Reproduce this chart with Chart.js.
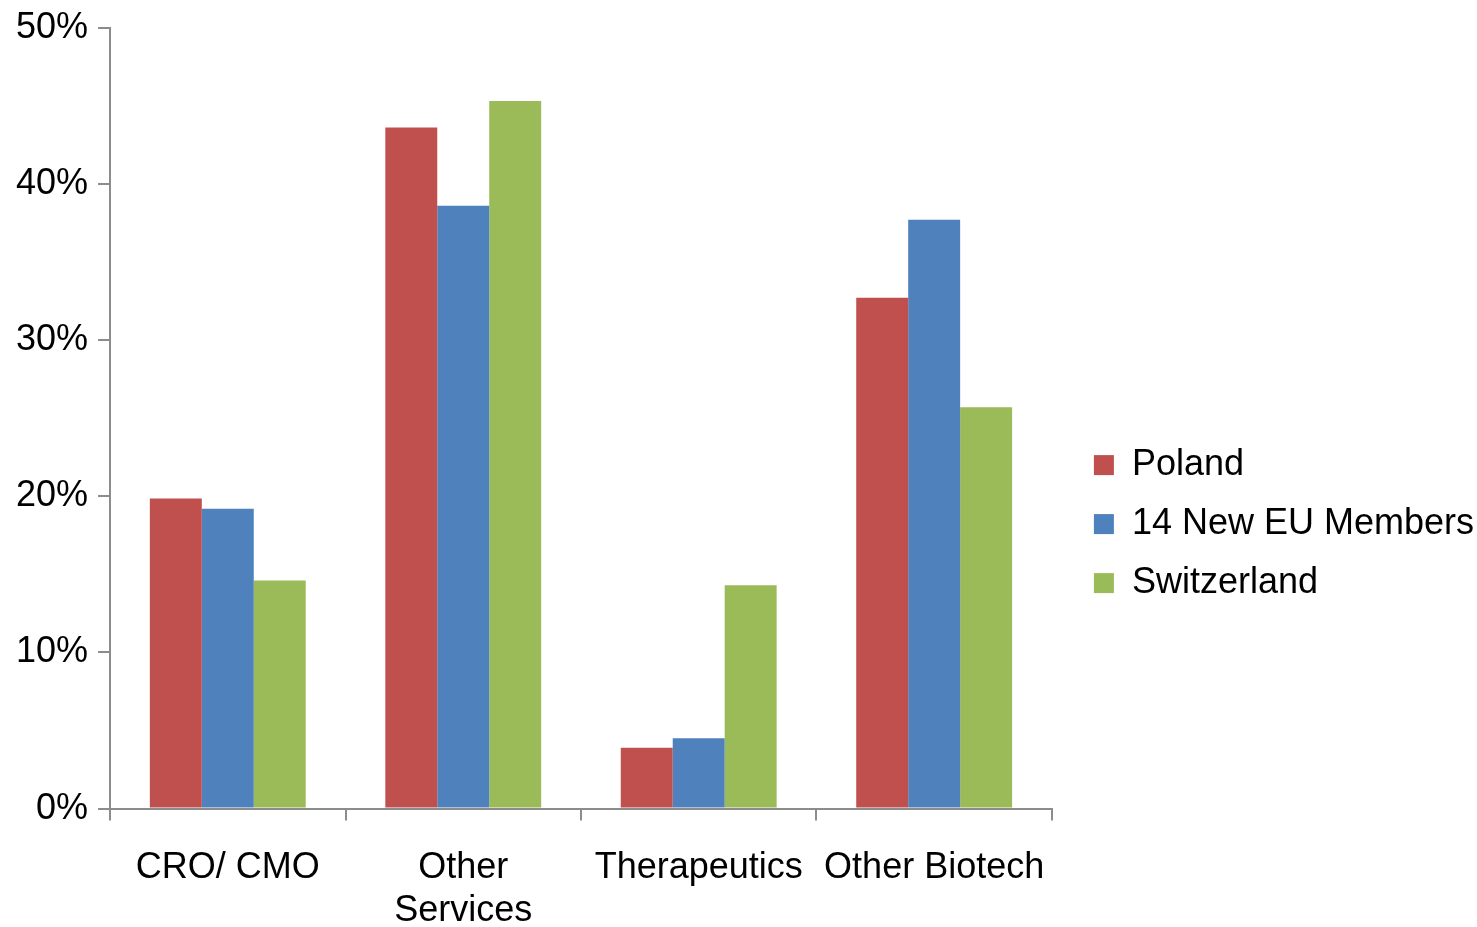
<!DOCTYPE html>
<html>
<head>
<meta charset="utf-8">
<script src="https://cdn.jsdelivr.net/npm/chart.js@4"></script>
<style>
    html, body { margin: 0; padding: 0; background: #fff; }
    #wrap { width: 1477px; height: 927px; }
</style>
</head>
<body>
<div id="wrap"><canvas id="sectorChart"></canvas></div>
<script>
// Data
const categories = ['CRO/ CMO', ['Other', 'Services'], 'Therapeutics', 'Other Biotech'];
const seriesNames = ['Poland', '14 New EU Members', 'Switzerland'];
const poland = [19.85, 43.6, 3.9, 32.7];
const newEuMembers = [19.2, 38.6, 4.5, 37.7];
const switzerland = [14.6, 45.3, 14.3, 25.7];
const yTicks = [0, 10, 20, 30, 40, 50];

const seriesColors = ['#C0504D', '#4F81BD', '#9BBB59'];
const axisColor = '#8C8C8C';
const fontFamily = '"Liberation Sans", Arial, sans-serif';

Chart.defaults.font.family = fontFamily;
Chart.defaults.color = '#000';

// nudge the legend a bit right of where the layout puts it
const legendShift = {
    id: 'legendShift',
    afterLayout(chart) {
        if (chart.legend) {
            chart.legend.left += 19;
            chart.legend.right += 19;
        }
    }
};

const ctx = document.getElementById('sectorChart').getContext('2d');
new Chart(ctx, {
    type: 'bar',
    data: {
        labels: categories,
        datasets: [poland, newEuMembers, switzerland].map((values, i) => ({
            label: seriesNames[i],
            data: values,
            backgroundColor: seriesColors[i],
            borderWidth: 0,
            categoryPercentage: 0.662,
            barPercentage: 1.0
        }))
    },
    plugins: [legendShift],
    options: {
        responsive: true,
        maintainAspectRatio: false,
        animation: false,
        layout: {
            padding: { left: 6, top: 0, right: 12, bottom: 0 }
        },
        scales: {
            x: {
                grid: {
                    display: true,
                    drawOnChartArea: false,
                    drawTicks: true,
                    tickLength: 12,
                    color: axisColor,
                    lineWidth: 2
                },
                border: { color: axisColor, width: 2 },
                ticks: {
                    font: { size: 36 },
                    padding: 26,
                    maxRotation: 0,
                    autoSkip: false
                },
                afterFit: (scale) => {
                    scale.height -= 32;
                }
            },
            y: {
                min: 0,
                max: 50,
                afterBuildTicks: (axis) => {
                    axis.ticks = yTicks.map(v => ({ value: v }));
                },
                afterFit: (scale) => {
                    scale.paddingTop = Math.max(scale.paddingTop - 4, 0);
                },
                grid: {
                    display: true,
                    drawOnChartArea: false,
                    drawTicks: true,
                    tickLength: 12,
                    color: axisColor,
                    lineWidth: 2
                },
                border: { color: axisColor, width: 2 },
                ticks: {
                    font: { size: 36 },
                    padding: 10,
                    callback: (value) => value + '%'
                }
            }
        },
        plugins: {
            legend: {
                position: 'right',
                maxWidth: 600,
                title: {
                    display: true,
                    text: ' ',
                    font: { size: 1 },
                    padding: { top: 120, bottom: 0 }
                },
                labels: {
                    boxWidth: 20,
                    boxHeight: 20,
                    padding: 23,
                    font: { size: 36 },
                    color: '#000'
                }
            },
            tooltip: { enabled: false }
        }
    }
});
</script>
</body>
</html>
